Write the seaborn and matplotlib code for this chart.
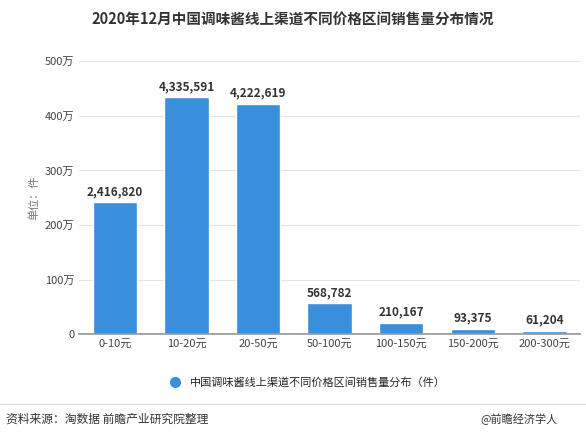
import pandas as pd
import matplotlib.pyplot as plt
import seaborn as sns
from matplotlib.lines import Line2D

categories = ['0-10元', '10-20元', '20-50元', '50-100元', '100-150元', '150-200元', '200-300元']
sales = [2416820, 4335591, 4222619, 568782, 210167, 93375, 61204]
y_ticks = [0, 100, 200, 300, 400, 500]
y_tick_labels = ['0', '100万', '200万', '300万', '400万', '500万']

sns.set_theme(style='white')
plt.rcParams['font.family'] = ['Noto Sans CJK SC', 'DejaVu Sans']

df = pd.DataFrame({'cat': categories, 'val': [v / 10000 for v in sales]})

fig = plt.figure(figsize=(5.86, 4.37), dpi=100)
ax = fig.add_axes([0.135, 0.235, 0.855, 0.625])
sns.barplot(data=df, x='cat', y='val', color='#3a8fdc', width=0.62, ax=ax, saturation=1)

for i, v in enumerate(sales):
    ax.text(i, v / 10000 + 8, f'{v:,}', ha='center', va='bottom', fontsize=8.5, fontweight='bold', color='#333333')

ax.set_ylim(0, 500)
ax.set_yticks(y_ticks)
ax.set_yticklabels(y_tick_labels, fontsize=8, color='#444444')
ax.tick_params(axis='x', labelsize=8, colors='#444444', length=0)
ax.tick_params(axis='y', length=0)
ax.set_xlabel('')
ax.set_ylabel('单位：件', fontsize=8, color='#777777')
ax.yaxis.grid(True, color='#e3e3e3', linewidth=0.8)
ax.set_axisbelow(True)
for s in ['top', 'right', 'left']:
    ax.spines[s].set_visible(False)
ax.spines['bottom'].set_color('#999999')

fig.text(0.5, 0.955, '2020年12月中国调味酱线上渠道不同价格区间销售量分布情况', ha='center', va='center',
         fontsize=10.5, fontweight='bold', color='#333333')

handle = Line2D([], [], marker='o', linestyle='', color='#3a8fdc', markersize=7)
fig.legend([handle], ['中国调味酱线上渠道不同价格区间销售量分布（件）'], loc='center',
           bbox_to_anchor=(0.52, 0.125), frameon=False, fontsize=8, handletextpad=0.3)

fig.add_artist(Line2D([0, 1], [0.075, 0.075], color='#dddddd', linewidth=0.8))
fig.text(0.01, 0.04, '资料来源：淘数据 前瞻产业研究院整理', ha='left', va='center', fontsize=8.5, color='#333333')
fig.text(0.82, 0.04, '@前瞻经济学人', ha='left', va='center', fontsize=8, color='#333333')

fig.savefig('out.png', dpi=100)
